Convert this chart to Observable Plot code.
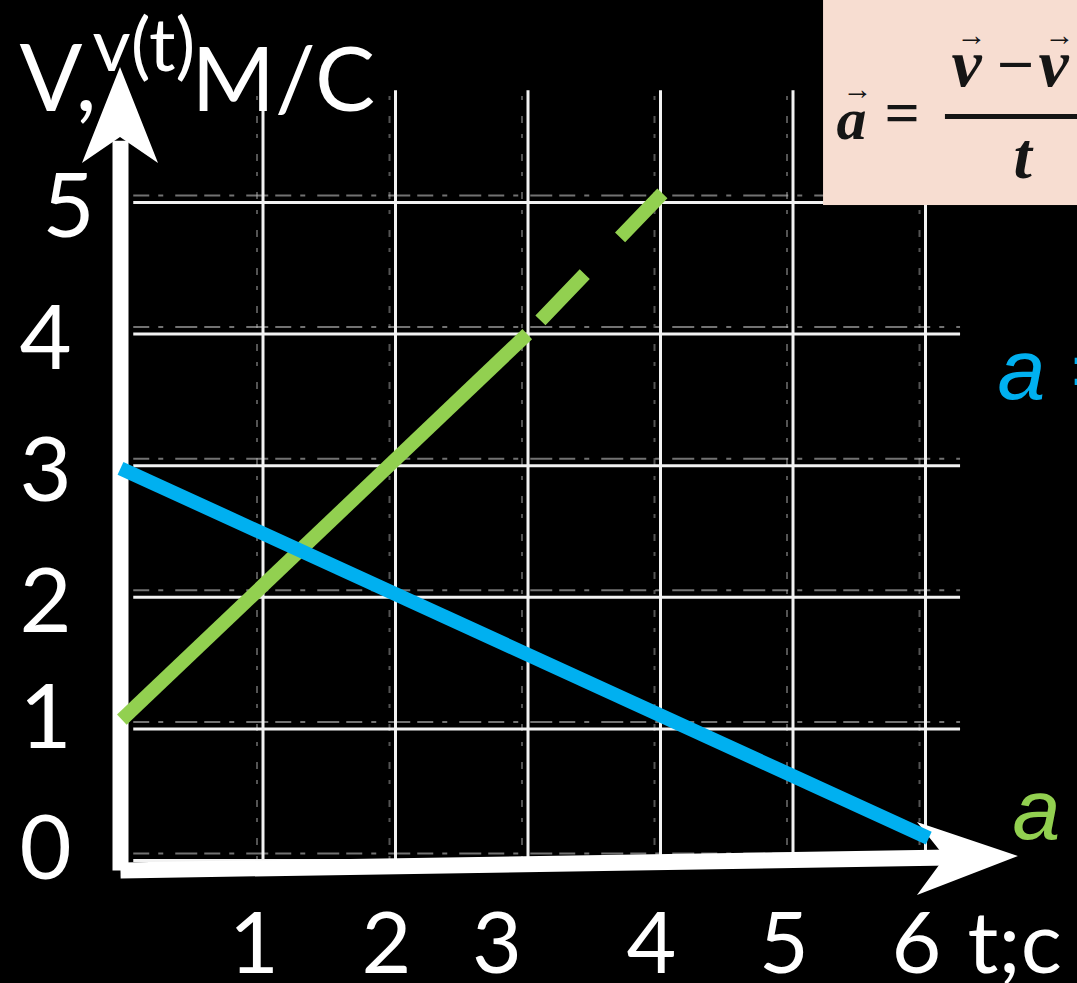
<!DOCTYPE html>
<html>
<head>
<meta charset="utf-8">
<script src="https://cdn.jsdelivr.net/npm/d3@7"></script>
<script src="https://cdn.jsdelivr.net/npm/@observablehq/plot@0.6"></script>
<style>
  html, body { margin: 0; padding: 0; background: #000; overflow: hidden; }
</style>
</head>
<body>
<div id="chart"></div>
<script>
// ---- data (t in s, v in m/s) ----
const greenT = [0.01, 3.07, 4.09];
const greenV = [1.07, 4.0, 5.07];      // solid 0→3.07, dashed 3.07→4.09
const blueT = [0, 6.1];
const blueV = [2.98, 0.17];

const xTicksMain = [1, 2, 4, 5, 6];
const xTicksShift = [3];
const yTicksLow = [0, 1];
const yTicksMid = [2, 3, 4];
const yTicksTop = [5];

const gridT = [1, 2, 3, 4, 5, 6];
const gridV = [0, 1, 2, 3, 4, 5];

// ---- decorations: axis arrows, formula box (data units) ----
const yShaft = [{t: 0, v: -0.076}, {t: 0, v: 5.47}];
const xShaft = [{t: 0, v: -0.076}, {t: 6.26, v: 0.023}];
const yHead = [
  {x1: 0, y1: 6.026, x2: 0, y2: 6.026},
  {x1: -0.287, y1: 5.296, x2: 0.287, y2: 5.296},
  {x1: 0, y1: 5.494, x2: 0, y2: 5.494}
];
const xHead = [
  {x1: 6.777, y1: 0.03, x2: 6.777, y2: 0.03},
  {x1: 6.015, y1: 0.289, x2: 6.015, y2: -0.266},
  {x1: 6.226, y1: 0.023, x2: 6.226, y2: 0.023}
];
const formulaBox = [{t1: 5.306, t2: 7.6, v1: 4.977, v2: 6.8}];
const fractionBar = [{v: 5.653, t1: 6.226, t2: 7.6}];

const green = greenT.map((t, i) => ({t, v: greenV[i]}));
const blue = blueT.map((t, i) => ({t, v: blueV[i]}));

const SANS = "Lato, 'Open Sans', sans-serif";
const SERIF = "'Liberation Serif', 'DejaVu Serif', serif";
const ITAL = "'Liberation Sans', Arial, sans-serif";
const INK = "#151515";
const fmt = d => String(d);

const label = (s, o) => Plot.text([s], {
  text: d => d, frameAnchor: "top-left", textAnchor: "start", lineAnchor: "bottom",
  fill: "white", fontFamily: SANS, ...o
});
const formula = (s, o) => label(s, {fill: INK, fontFamily: SERIF, fontWeight: "bold", fontStyle: "italic", ...o});

const plot = Plot.plot({
  width: 1077,
  height: 983,
  marginLeft: 120,
  marginRight: 162,
  marginTop: 202,
  marginBottom: 123,
  style: {background: "#000", color: "white", overflow: "hidden"},
  x: {domain: [0, 6], axis: null},
  y: {domain: [0, 5], axis: null},
  marks: [
    // scanned grid paper
    Plot.ruleY(gridV, {y: d => d, x1: 0.1, x2: 6.34, dy: -7, stroke: "#cfcfcf", strokeWidth: 2, strokeDasharray: "16 9 5 12 22 7", strokeOpacity: 0.55}),
    Plot.ruleX(gridT, {x: d => d, y1: 0, y2: 5.85, dx: 4, stroke: "#bbbbbb", strokeWidth: 2, strokeDasharray: "4 11 7 16", strokeOpacity: 0.45}),
    Plot.ruleY(gridV, {y: d => d, x1: 0.1, x2: 6.34, stroke: "#f2f2f2", strokeWidth: 3}),
    Plot.ruleX(gridT, {x: d => d, y1: 0, y2: 5.85, dx: 10, stroke: "#f2f2f2", strokeWidth: 3}),

    // formula inset
    Plot.rect(formulaBox, {x1: "t1", x2: "t2", y1: "v1", y2: "v2", fill: "#f7ddd1"}),
    Plot.ruleY(fractionBar, {y: "v", x1: "t1", x2: "t2", stroke: INK, strokeWidth: 5}),
    formula("a", {fontSize: 60, dx: 716, dy: -64}),
    formula("\u2192", {fontStyle: "normal", fontSize: 30, dx: 722, dy: -104}),
    label("=", {fill: INK, fontFamily: SERIF, fontWeight: "bold", fontSize: 62, dx: 764, dy: -70}),
    formula("v", {fontSize: 68, dx: 831, dy: -117}),
    formula("\u2013", {fontStyle: "normal", fontSize: 60, dx: 880, dy: -124}),
    formula("v", {fontSize: 68, dx: 918, dy: -117}),
    formula("\u2192", {fontStyle: "normal", fontSize: 30, dx: 836, dy: -158}),
    formula("\u2192", {fontStyle: "normal", fontSize: 30, dx: 924, dy: -158}),
    formula("t", {fontSize: 66, dx: 893, dy: -25}),

    // axes (hand-drawn arrows)
    Plot.line(yShaft, {x: "t", y: "v", stroke: "white", strokeWidth: 16, strokeLinecap: "butt"}),
    Plot.line(xShaft, {x: "t", y: "v", stroke: "white", strokeWidth: 16, strokeLinecap: "butt"}),
    Plot.area(yHead, {x1: "x1", y1: "y1", x2: "x2", y2: "y2", fill: "white"}),
    Plot.area(xHead, {x1: "x1", y1: "y1", x2: "x2", y2: "y2", fill: "white"}),

    // tick labels
    Plot.axisX(xTicksMain, {tickSize: 0, tickPadding: 51, tickFormat: fmt, fontSize: 86, fontFamily: SANS, fill: "white", label: null, dx: 1}),
    Plot.axisX(xTicksShift, {tickSize: 0, tickPadding: 51, tickFormat: fmt, fontSize: 86, fontFamily: SANS, fill: "white", label: null, dx: -21}),
    Plot.axisY(yTicksLow, {anchor: "left", tickSize: 0, tickPadding: 75, tickFormat: fmt, textAnchor: "middle", fontSize: 90, fontFamily: SANS, fill: "white", label: null, dy: -10}),
    Plot.axisY(yTicksMid, {anchor: "left", tickSize: 0, tickPadding: 75, tickFormat: fmt, textAnchor: "middle", fontSize: 90, fontFamily: SANS, fill: "white", label: null, dy: 6}),
    Plot.axisY(yTicksTop, {anchor: "left", tickSize: 0, tickPadding: 52, tickFormat: fmt, textAnchor: "middle", fontSize: 90, fontFamily: SANS, fill: "white", label: null, dy: 6}),

    // axis titles
    label("V,", {fontSize: 93, dx: -101, dy: -92}),
    label("v(t)", {fontSize: 74, dx: -28, dy: -132}),
    label("М/С", {fontSize: 90, dx: 71, dy: -92, letterSpacing: "-3px"}),
    label("t;с", {fontSize: 86, dx: 847, dy: 770}),

    // the two velocity graphs
    Plot.line(green.slice(0, 2), {x: "t", y: "v", stroke: "#92D050", strokeWidth: 14, strokeLinecap: "butt"}),
    Plot.line(green.slice(1), {x: "t", y: "v", stroke: "#92D050", strokeWidth: 14, strokeLinecap: "butt", strokeDasharray: "64 51", strokeDashoffset: 96}),
    Plot.line(blue, {x: "t", y: "v", stroke: "#00B0F0", strokeWidth: 14, strokeLinecap: "butt"}),

    // acceleration labels
    label("a =", {fill: "#00B0F0", fontFamily: ITAL, fontStyle: "italic", fontSize: 86, dx: 877, dy: 196}),
    label("a", {fill: "#92D050", fontFamily: ITAL, fontStyle: "italic", fontSize: 86, dx: 892, dy: 636})
  ]
});

document.getElementById("chart").append(plot);
</script>
</body>
</html>
